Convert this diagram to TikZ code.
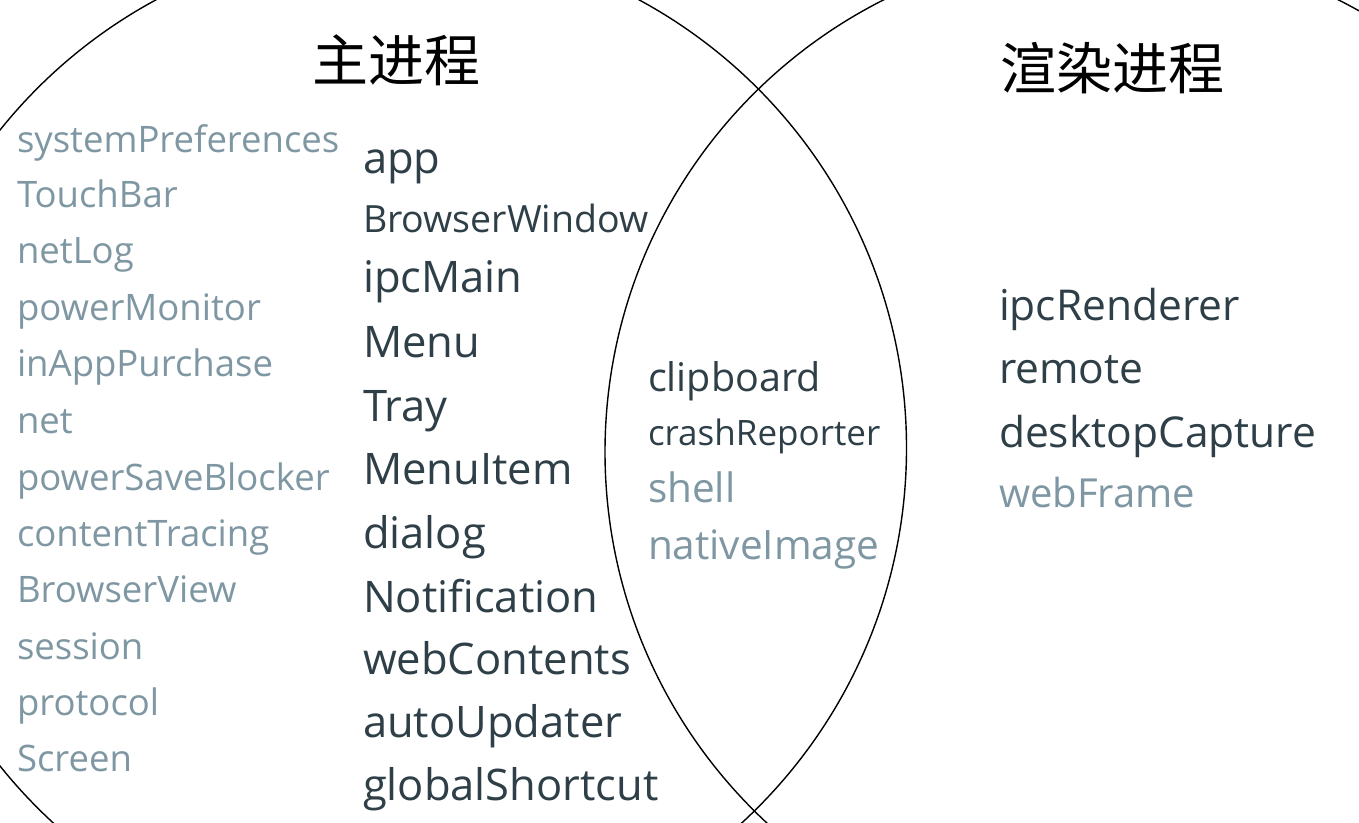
\documentclass[tikz,border=0pt]{standalone}
\usepackage{fontspec}
\setmainfont{Open Sans}
\newfontfamily\cjk{Noto Sans CJK SC}
\definecolor{darktxt}{HTML}{2E3F47}
\definecolor{lighttxt}{HTML}{7E97A3}
\begin{document}
\begin{tikzpicture}[x=1pt,y=-1pt,
  ring/.style={draw=black, line width=1.4pt},
  lbl/.style={anchor=base west, inner sep=0pt, outer sep=0pt},
  side/.style={lbl, text=lighttxt, font=\fontsize{36.5}{40}\selectfont},
  core/.style={lbl, text=darktxt, font=\fontsize{43.5}{48}\selectfont},
  title/.style={anchor=center, inner sep=0pt, text=black, font=\cjk\fontsize{56}{60}\selectfont}]
\useasboundingbox (0,0) rectangle (1359,822);
\clip (0,0) rectangle (1359,822);
\fill[white] (0,0) rectangle (1359,822);

% circles
\draw[ring] (397.5,448) circle[radius=509];
\draw[ring] (1111,452) circle[radius=506];

% titles
\node[title] (tmain) at (396,60) {主进程};
\node[title] (trend) at (1112,68) {渲染进程};

% left column (main process, light)
\node[side] (l1) at (17,152) {systemPreferences};
\node[side] (l2) at (17,207) {TouchBar};
\node[side] (l3) at (17,263) {netLog};
\node[side] (l4) at (17,320) {powerMonitor};
\node[side] (l5) at (17,376) {inAppPurchase};
\node[side] (l6) at (17,433) {net};
\node[side] (l7) at (17,490) {powerSaveBlocker};
\node[side] (l8) at (17,546) {contentTracing};
\node[side] (l9) at (17,602) {BrowserView};
\node[side] (l10) at (17,659) {session};
\node[side] (l11) at (17,715) {protocol};
\node[side] (l12) at (17,771) {Screen};

% middle column (main process, dark)
\node[core] (m1) at (363,173) {app};
\node[core, font=\fontsize{37.5}{40}\selectfont] (m2) at (363,232) {BrowserWindow};
\node[core] (m3) at (363,292) {ipcMain};
\node[core] (m4) at (363,357) {Menu};
\node[core] (m5) at (363,421) {Tray};
\node[core] (m6) at (363,484) {MenuItem};
\node[core] (m7) at (363,548) {dialog};
\node[core] (m8) at (363,612) {Notification};
\node[core] (m9) at (363,674) {webContents};
\node[core] (m10) at (363,737) {autoUpdater};
\node[core] (m11) at (363,800) {globalShortcut};

% intersection
\node[core, font=\fontsize{39.5}{44}\selectfont] (s1) at (648,391) {clipboard};
\node[core, font=\fontsize{35}{40}\selectfont] (s2) at (648,445) {crashReporter};
\node[side, font=\fontsize{40.5}{44}\selectfont] (s3) at (648,502) {shell};
\node[side, font=\fontsize{40.5}{44}\selectfont] (s4) at (648,559) {nativeImage};

% right column (renderer)
\node[core, font=\fontsize{42.5}{46}\selectfont] (r1) at (999,320) {ipcRenderer};
\node[core, font=\fontsize{42.5}{46}\selectfont] (r2) at (999,383) {remote};
\node[core, font=\fontsize{42.5}{46}\selectfont] (r3) at (999,447) {desktopCapture};
\node[side, font=\fontsize{40}{44}\selectfont] (r4) at (999,507) {webFrame};
\end{tikzpicture}
\end{document}
